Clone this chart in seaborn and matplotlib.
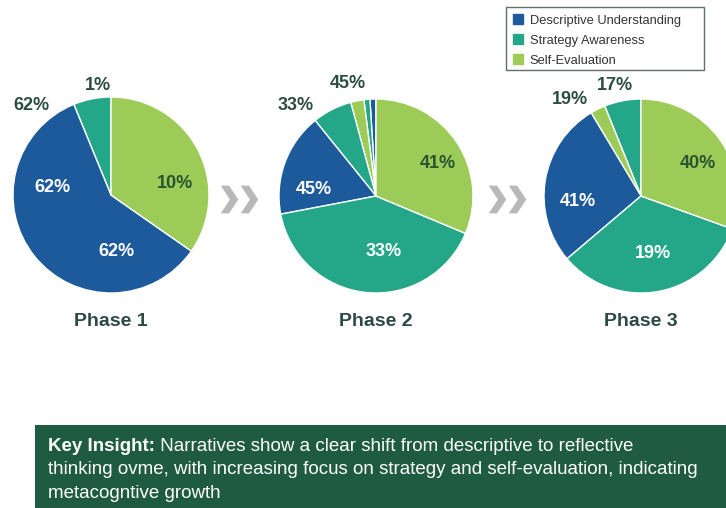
import matplotlib
matplotlib.use("Agg")
import matplotlib.pyplot as plt
from matplotlib.lines import Line2D
from matplotlib.patches import Rectangle
import seaborn as sns

# data (slice shares drawn counter-clockwise from 12 o'clock)
categories = ["Descriptive Understanding", "Strategy Awareness", "Self-Evaluation"]
phase_names = ["Phase 1", "Phase 2", "Phase 3"]

phase1_slices = ["Strategy Awareness", "Descriptive Understanding", "Self-Evaluation"]
phase1_sizes = [6.2, 59.1, 34.7]
phase2_slices = ["Descriptive Understanding", "Strategy Awareness", "Self-Evaluation",
                 "Strategy Awareness", "Descriptive Understanding", "Strategy Awareness",
                 "Self-Evaluation"]
phase2_sizes = [1.0, 1.0, 2.2, 6.6, 17.2, 40.7, 31.3]
phase3_slices = ["Strategy Awareness", "Self-Evaluation", "Descriptive Understanding",
                 "Strategy Awareness", "Self-Evaluation"]
phase3_sizes = [6.1, 2.5, 27.6, 33.3, 30.5]

# printed labels (as they appear on the chart): two outside, three inside
phase1_labels = ["1%", "62%", "62%", "62%", "10%"]
phase2_labels = ["45%", "33%", "45%", "33%", "41%"]
phase3_labels = ["17%", "19%", "41%", "19%", "40%"]

insight_bold = "Key Insight:"
insight_lines = [
    " Narratives show a clear shift from descriptive to reflective",
    "thinking ovme, with increasing focus on strategy and self-evaluation, indicating",
    "metacogntive growth",
]

sns.set_theme(style="white")
plt.rcParams['font.family'] = ['Liberation Sans', 'DejaVu Sans']

palette = dict(zip(categories, sns.color_palette(["#1d5a9c", "#24a688", "#9dcb57"])))

W, H = 726, 508
fig = plt.figure(figsize=(7.26, 5.08), dpi=100)
fig.patch.set_facecolor("white")
ax = fig.add_axes([0, 0, 1, 1])

pies = [
    (phase1_slices, phase1_sizes, phase1_labels, (111, 195), 98),
    (phase2_slices, phase2_sizes, phase2_labels, (376, 196), 97),
    (phase3_slices, phase3_sizes, phase3_labels, (641, 196), 97),
]
# label offsets from pie centre in pixels (y down) and text colours
label_offsets = [
    [(-13, -110), (-80, -89), (-59, -7), (5, 56), (64, -12)],
    [(-28, -112), (-80, -90), (-62, -6), (8, 56), (62, -33)],
    [(-26, -110), (-71, -97), (-63, 5), (12, 57), (57, -32)],
]
label_colors = ["#2c4d43", "#2c4d43", "white", "white", "#2a5430"]

for i, (slices, sizes, labels, (cx, cy), r) in enumerate(pies):
    ax.pie(sizes, colors=[palette[s] for s in slices], startangle=90,
           counterclock=True, center=(cx, H - cy), radius=r,
           wedgeprops=dict(edgecolor="white", linewidth=1))
    for lab, (dx, dy), col in zip(labels, label_offsets[i], label_colors):
        ax.text(cx + dx, H - (cy + dy), lab, ha="center", va="center",
                fontsize=13, fontweight="bold", color=col)
    ax.text(cx, H - 321, phase_names[i], ha="center", va="center",
            fontsize=14, fontweight="bold", color="#2d4a45")

# chevrons between phases
chevron = [(-0.63, 1), (-0.03, 1), (0.63, 0), (-0.03, -1), (-0.63, -1), (0.03, 0), (-0.63, 1)]
for x in [238.5, 506.5]:
    ax.plot([x - 10, x + 10], [H - 198.5, H - 198.5], linestyle="", marker=chevron,
            markersize=20, color="#b8b8b8", markeredgewidth=0)

# legend
ax.add_patch(Rectangle((506, H - 70), 198, 63, facecolor="white", edgecolor="#5f6f6a",
                       linewidth=1, zorder=4))
handles = [Line2D([], [], marker="s", linestyle="", markersize=7.5,
                  markerfacecolor=palette[c], markeredgecolor=palette[c]) for c in categories]
leg = ax.legend(handles, categories, loc="upper left", bbox_to_anchor=(506, H - 8.5),
                bbox_transform=ax.transData, fontsize=9.3, frameon=False,
                borderaxespad=0, borderpad=0.5, handlelength=0.8, handletextpad=0.55,
                labelspacing=0.6)
leg.set_zorder(5)
for t in leg.get_texts():
    t.set_color("#333333")

# insight box
ax.add_patch(Rectangle((35, 0), W - 35, H - 425, facecolor="#1e5b40", edgecolor="none"))
t1 = ax.text(48, H - 451, insight_bold, ha="left", va="baseline", fontsize=13.5,
             fontweight="bold", color="white")
ax.annotate(insight_lines[0], xy=(1, 0), xycoords=t1, ha="left", va="bottom",
            fontsize=13.5, color="white")
for k, line in enumerate(insight_lines[1:]):
    ax.text(48, H - (474 + 23.5 * k), line, ha="left", va="baseline", fontsize=13.5,
            color="white")

ax.set_xlim(0, W)
ax.set_ylim(0, H)
ax.set_aspect("equal")
ax.axis("off")

fig.savefig("out.png", dpi=100, facecolor="white")
